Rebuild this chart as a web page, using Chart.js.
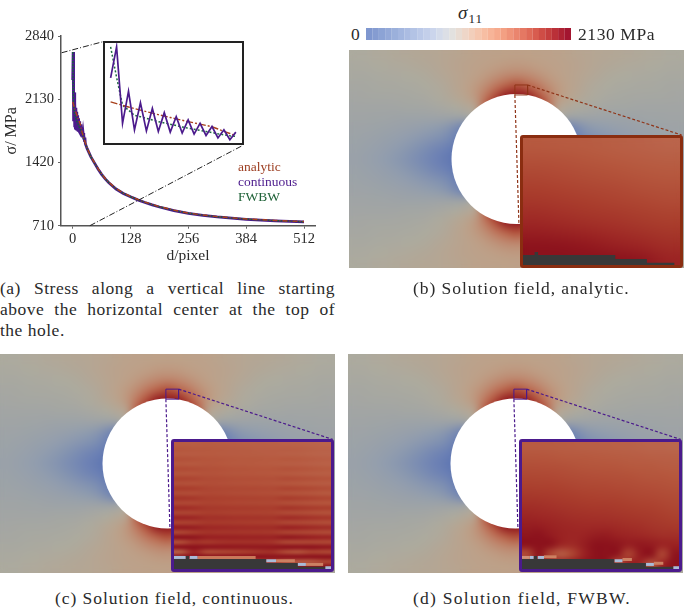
<!DOCTYPE html>
<html>
<head>
<meta charset="utf-8">
<script src="https://cdn.jsdelivr.net/npm/chart.js@4/dist/chart.umd.min.js"></script>
<style>
  html, body { margin: 0; padding: 0; background: #fff; }
  body { position: relative; width: 685px; height: 608px; overflow: hidden; font-family: "Liberation Serif", serif; color: #2a2a2a; }
  canvas { position: absolute; }
  .txt { position: absolute; white-space: nowrap; }
  .cap { font-size: 17.5px; letter-spacing: 0.95px; }
  .just { width: 335px; left: 0; white-space: normal; letter-spacing: 0.5px; text-align: justify; text-align-last: justify; }
  .frame { position: absolute; box-sizing: border-box; border-style: solid; border-width: 3px; border-radius: 3px; }
</style>
</head>
<body>
<canvas id="main" width="340" height="270" style="left:0;top:0"></canvas>
<canvas id="zoomPlot" width="139" height="102" style="left:104px;top:42px"></canvas>
<div class="frame" style="left:103px;top:41px;width:141px;height:104px;border-width:2px;border-color:#222;border-radius:0"></div>
<div class="txt" style="left:238px;top:159px;font-size:13.5px;color:#9c3d20">analytic</div>
<div class="txt" style="left:238px;top:174px;font-size:13.5px;color:#4b1a8c">continuous</div>
<div class="txt" style="left:238px;top:189px;font-size:13.5px;color:#1f6238">FWBW</div>

<div class="txt" style="left:458px;top:2px;font-size:19px"><i>σ</i><span style="font-size:13px;position:relative;top:4px;letter-spacing:1px;margin-left:1px">11</span></div>
<canvas id="bar" width="205" height="12" style="left:366px;top:28px"></canvas>
<div class="txt" style="left:351px;top:24px;font-size:17.5px">0</div>
<div class="txt" style="left:578px;top:24px;font-size:17.5px;letter-spacing:.6px">2130 MPa</div>

<canvas id="fieldB" width="335" height="218" style="left:349px;top:50px"></canvas>
<canvas id="fieldC" width="335" height="219" style="left:0;top:354px"></canvas>
<canvas id="fieldD" width="335" height="219" style="left:348px;top:354px"></canvas>
<canvas id="insetB" width="157" height="127" style="left:523px;top:138px"></canvas>
<canvas id="insetC" width="157" height="127" style="left:174px;top:442px"></canvas>
<canvas id="insetD" width="157" height="127" style="left:522px;top:442px"></canvas>
<div class="frame" style="left:520px;top:135px;width:163px;height:133px;border-color:#8a2d10"></div>
<div class="frame" style="left:171px;top:439px;width:163px;height:133px;border-color:#4b1a8c"></div>
<div class="frame" style="left:519px;top:439px;width:163px;height:133px;border-color:#4b1a8c"></div>

<div class="txt cap just" style="top:278px">(a) Stress along a vertical line starting</div>
<div class="txt cap just" style="top:299px">above the horizontal center at the top of</div>
<div class="txt cap" style="left:0;top:320px;letter-spacing:.5px">the hole.</div>
<div class="txt cap" style="left:413px;top:278px">(b) Solution field, analytic.</div>
<div class="txt cap" style="left:55px;top:588px">(c) Solution field, continuous.</div>
<div class="txt cap" style="left:413px;top:588px;letter-spacing:1.25px">(d) Solution field, FWBW.</div>

<script>
// line plot data
const dPixel = [0,1,2,3,4,5,6,7,8,9,10,11,12,13,14,15,16,17,18,19,20,21,22,23,24,25,26,27,28,32,40,48,56,64,72,80,96,112,128,144,160,176,192,224,256,288,320,352,384,416,448,480,512];
const analytic = [2100,2082,2065,2048,2032,2016,2000,1985,1970,1955,1941,1927,1913,1899,1886,1873,1860,1847,1824,1800,1778,1755,1740,1720,1700,1685,1670,1655,1640,1580,1490,1420,1352,1292,1240,1197,1127,1077,1038,1005,975,948,925,885,852,830,812,798,786,777,769,762,757];
const continuous = [2345,2660,1882,2207,1815,2090,1805,2033,1798,1990,1792,1950,1782,1916,1772,1882,1758,1849,1732,1815,1714,1792,1700,1750,1680,1725,1665,1700,1630,1575,1485,1415,1347,1287,1235,1192,1122,1072,1034,1000,970,943,920,880,848,826,808,794,782,773,765,758,752];
const fwbw = [2660,2351,2066,2016,1963,1949,1932,1916,1899,1886,1872,1859,1845,1832,1822,1809,1798,1788,1775,1765,1755,1748,1735,1715,1695,1680,1665,1650,1635,1575,1487,1417,1349,1289,1237,1194,1124,1074,1035,1002,972,945,922,882,850,828,810,796,784,775,767,760,754];
const yTicks = [710,1420,2130,2840];
const xTicks = [0,128,256,384,512];
const zoomCount = 22;
const connectTop = [[-24.4,2652],[67,2776]];
const connectBottom = [[38,710],[374,1605]];

// colour bar bands
const barColors = ['#7f97cf','#859cd1','#8ca3d5','#94a9d8','#9bb0db','#a3b6df','#abbce2','#b3c3e5','#bbc9e8','#c3cfea','#cbd5ec','#d4dbea','#dcdfe6','#e2e1df','#e8dcd3','#eed6c8','#f2cfbb','#f5c7af','#f7bea3','#f7b498','#f6aa8d','#f3a083','#ef9379','#ea856e','#e57863','#df6a58','#d85c4f','#cf4d46','#c53f3e','#ba3038','#ae2233','#a31530'];

// colour ramp of the rendered field
const rampValues = [0,350,700,1065,1300,1500,1700,1850,2000,2130];
const rampColors = [[82,108,178],[112,132,180],[145,157,174],[172,170,158],[190,160,135],[190,115,90],[182,88,62],[170,62,45],[155,35,35],[140,18,28]];

// upper left quarter of the field, columns -16..0, rows -10..0, mirrored for the rest
const fieldQuarter = [
  [1060,1070,1085,1100,1115,1130,1145,1160,1170,1190,1210,1235,1255,1270,1280,1288,1290],
  [1040,1050,1060,1075,1085,1100,1115,1135,1160,1190,1220,1245,1270,1290,1310,1325,1330],
  [1010,1015,1030,1040,1050,1060,1075,1095,1130,1170,1210,1250,1290,1330,1370,1410,1430],
  [985,990,1000,1010,1015,1025,1040,1060,1085,1130,1200,1260,1330,1400,1500,1650,1780],
  [960,965,970,975,980,990,1000,1020,1065,1110,1170,1240,1340,1500,1800,2130,2130],
  [930,935,935,935,935,940,945,960,985,1020,1070,1130,1200,1700,2130,2130,2130],
  [905,900,895,885,875,865,860,860,870,880,880,900,1100,1500,2130,2130,2130],
  [880,870,855,835,815,790,765,730,680,620,450,250,800,1400,2130,2130,2130],
  [855,840,815,785,750,710,660,600,540,470,300,200,500,1200,2130,2130,2130],
  [830,805,775,735,685,625,555,470,380,300,180,100,400,1100,2130,2130,2130],
  [815,790,750,700,640,570,490,400,310,220,100,0,300,1000,2130,2130,2130]
];

// close-ups of the hole edge
const insetAnalytic = [
  [1690,1680,1670,1650,1630,1610],
  [1730,1720,1700,1680,1660,1640],
  [1770,1755,1735,1715,1695,1680],
  [1810,1790,1770,1750,1730,1710],
  [1850,1830,1810,1790,1765,1745],
  [1890,1870,1850,1825,1805,1780],
  [1940,1915,1890,1870,1845,1820],
  [1990,1965,1940,1915,1885,1860],
  [2060,2040,2010,1975,1940,1905],
  [2130,2120,2090,2040,2000,1950],
  [2130,2130,2130,2130,2100,2000]
];
const insetContinuous = [
  [1670,1665,1670,1665,1660,1650,1645,1640,1630,1625,1615,1605],
  [1710,1700,1690,1685,1675,1670,1660,1660,1665,1660,1640,1630],
  [1680,1675,1685,1680,1675,1670,1665,1660,1645,1640,1625,1615],
  [1745,1735,1715,1710,1700,1695,1690,1685,1700,1695,1675,1660],
  [1700,1695,1710,1705,1695,1690,1685,1680,1665,1660,1645,1635],
  [1780,1770,1745,1740,1730,1725,1715,1715,1735,1730,1710,1695],
  [1720,1715,1735,1730,1720,1715,1710,1705,1690,1680,1665,1655],
  [1820,1810,1775,1770,1760,1755,1750,1745,1775,1765,1745,1730],
  [1745,1740,1760,1755,1745,1740,1735,1730,1710,1700,1685,1675],
  [1860,1850,1810,1800,1795,1790,1785,1780,1815,1805,1785,1765],
  [1770,1765,1790,1785,1775,1770,1765,1760,1735,1725,1710,1695],
  [1905,1890,1845,1840,1830,1825,1820,1815,1860,1845,1825,1805],
  [1790,1790,1820,1815,1805,1800,1795,1790,1760,1745,1730,1715],
  [1950,1935,1885,1880,1870,1865,1860,1855,1905,1890,1865,1850],
  [1810,1815,1850,1845,1835,1830,1825,1820,1780,1770,1750,1735],
  [2000,1985,1930,1925,1915,1910,1905,1900,1955,1940,1915,1895],
  [1820,1835,1880,1875,1865,1860,1855,1850,1800,1790,1775,1755],
  [2060,2040,1980,1970,1960,1955,1950,1950,2015,1995,1965,1945],
  [1800,1860,1905,1900,1900,1895,1890,1880,1820,1810,1790,1775],
  [2130,2100,2030,2020,2015,2010,2005,2005,2085,2060,2030,2000],
  [1750,1900,1880,1910,1920,1920,1920,1900,1800,1790,1800,1790],
  [2130,2130,2100,2090,2085,2080,2080,2090,2130,2120,2120,2090],
  [1650,2000,1780,1800,1820,1850,1900,1920,1780,1730,1820,1800],
  [2130,2130,2130,2130,2130,2130,2130,2110,2130,2130,2130,2130],
  [1450,1550,1550,1600,1650,1700,1800,1900,1700,1680,1700,1800],
  [2130,2130,2130,2130,2130,2130,2130,2130,2100,2130,2130,2130]
];
const insetFwbw = [
  [1680,1675,1670,1665,1660,1650,1645,1640,1635,1630,1620,1610,1610,1600],
  [1720,1715,1710,1700,1695,1690,1685,1680,1670,1665,1660,1650,1645,1640],
  [1760,1755,1750,1745,1735,1725,1720,1715,1710,1700,1695,1690,1680,1670],
  [1800,1795,1790,1780,1770,1765,1755,1750,1745,1740,1730,1720,1715,1705],
  [1840,1835,1830,1820,1810,1800,1795,1790,1780,1775,1765,1755,1745,1735],
  [1885,1880,1870,1860,1850,1840,1830,1825,1820,1810,1800,1790,1780,1770],
  [1935,1925,1915,1900,1890,1880,1875,1870,1860,1850,1840,1830,1815,1800],
  [1985,1975,1960,1945,1930,1920,1915,1910,1900,1890,1880,1865,1850,1835],
  [2040,2035,2010,1985,1970,1960,1960,1960,1950,1935,1920,1900,1885,1875],
  [2100,2120,2060,2010,1990,2000,2040,2050,2010,1990,1970,1950,1930,1925],
  [2130,2130,2130,1990,1960,2040,2130,2130,2110,2040,2080,2060,2000,2010],
  [1750,2130,1800,1650,1800,2000,2130,2130,2100,1800,2060,2130,1780,2100],
  [2130,2130,2130,2130,2130,2130,2130,2130,1700,2050,2000,1700,2000,2130]
];

// missing pixels of the hole in the close-ups, percent of the box
const holeX = [0,7.4,7.4,9.6,9.6,58.8,58.8,78.9,78.9,96.4,96.4,100];
const holeY = [7.8,7.8,10.2,10.2,7.8,7.8,4.7,4.7,1.8,1.8,0,0];
// boundary cells [x0, x1, y, colour]
const chipsContinuous = [[0,7.4,9.1,'#a9bcd8'],[10,15,9.1,'#a9bcd8'],[15,52,9.1,'#c9785a'],[58.8,65,6.5,'#a9bcd8'],[65,77,6.5,'#cc8062'],[78.9,84,3.6,'#a9bcd8'],[84,95,3.6,'#cc8062'],[96.4,100,1,'#a9bcd8']];
const chipsFwbw = [[0,5,9.1,'#cf9078'],[5,7.4,9.1,'#a9bcd8'],[10,14,9.1,'#a9bcd8'],[14,22,9.6,'#cc8062'],[59,64,6.5,'#a9bcd8'],[64,70,7.5,'#cc8062'],[79,84,3.6,'#a9bcd8'],[84,90,4.5,'#cc8062'],[96.4,100,1,'#a9bcd8']];

function rampColor(v) {
  let i = 0;
  while (i < rampValues.length - 2 && v > rampValues[i + 1]) i++;
  const t = Math.min(1, Math.max(0, (v - rampValues[i]) / (rampValues[i + 1] - rampValues[i])));
  return rampColors[i].map((c, k) => c + (rampColors[i + 1][k] - c) * t);
}

// paints a value grid into the chart area, using the chart's scales for the extent
function heatPlugin(grid, blur) {
  const off = document.createElement('canvas');
  off.width = grid[0].length;
  off.height = grid.length;
  const offCtx = off.getContext('2d');
  const img = offCtx.createImageData(off.width, off.height);
  grid.forEach((row, r) => row.forEach((v, c) => {
    const col = rampColor(v);
    const p = (r * off.width + c) * 4;
    img.data[p] = col[0]; img.data[p + 1] = col[1]; img.data[p + 2] = col[2]; img.data[p + 3] = 255;
  }));
  offCtx.putImageData(img, 0, 0);
  return {
    id: 'heat',
    beforeDatasetsDraw(chart) {
      const x = chart.scales.x, y = chart.scales.y;
      const left = x.getPixelForValue(x.min), right = x.getPixelForValue(x.max);
      const top = y.getPixelForValue(y.min), bottom = y.getPixelForValue(y.max);
      const ctx = chart.ctx;
      const yTop = Math.min(top, bottom), h = Math.abs(bottom - top);
      ctx.save();
      ctx.imageSmoothingEnabled = true;
      ctx.imageSmoothingQuality = 'high';
      ctx.drawImage(off, left, yTop, right - left, h);
      if (blur) {
        ctx.filter = 'blur(' + blur + 'px)';
        ctx.drawImage(off, left, yTop, right - left, h);
      }
      ctx.restore();
    }
  };
}

function pairs(list) {
  return list.map(p => ({ x: p[0], y: p[1] }));
}

function baseOptions(scales) {
  return {
    responsive: false,
    animation: false,
    devicePixelRatio: 1,
    layout: { padding: 0, autoPadding: false },
    plugins: { legend: { display: false }, tooltip: { enabled: false } },
    scales: scales
  };
}

function curve(xs, ys, color, width, dash) {
  return {
    data: xs.map((x, i) => ({ x: x, y: ys[i] })),
    borderColor: color,
    borderWidth: width,
    borderDash: dash || [],
    pointRadius: 0,
    showLine: true,
    tension: 0
  };
}

// main plot
const mainOpts = baseOptions({
  x: {
    type: 'linear', min: -25.9, max: 536.3,
    afterBuildTicks: s => { s.ticks = xTicks.map(v => ({ value: v })); },
    afterFit: s => { s.height = 44.3; },
    grid: { drawOnChartArea: false, tickLength: 3, color: '#666' },
    border: { color: '#555', width: 1.5 },
    ticks: { color: '#2a2a2a', padding: 2, maxRotation: 0, callback: v => String(v), font: { family: 'Liberation Serif', size: 14.5 } },
    title: { display: true, text: 'd/pixel', color: '#2a2a2a', padding: { top: 0, bottom: 5 }, font: { family: 'Liberation Serif', size: 15.5 } }
  },
  y: {
    type: 'linear', min: 710, max: 2840,
    afterBuildTicks: s => { s.ticks = yTicks.map(v => ({ value: v })); },
    afterFit: s => { s.width = 61; },
    grid: { drawOnChartArea: false, tickLength: 3, color: '#666' },
    border: { color: '#555', width: 1.5 },
    ticks: { color: '#2a2a2a', padding: 4, callback: v => String(v), font: { family: 'Liberation Serif', size: 14.5 } },
    title: { display: true, text: 'σ/ MPa', color: '#2a2a2a', padding: { top: 2, bottom: 0 }, font: { family: 'Liberation Serif', size: 16 } }
  }
});
mainOpts.layout.padding = { top: 36, right: 25 };
const connectorStyle = { borderColor: '#222', borderWidth: 1, borderDash: [6, 2, 1, 2], pointRadius: 0, showLine: true, clip: false };
// chart.js paints the first dataset last
new Chart(document.getElementById('main'), {
  type: 'scatter',
  data: { datasets: [
    Object.assign({ data: pairs(connectTop) }, connectorStyle),
    Object.assign({ data: pairs(connectBottom) }, connectorStyle),
    curve(dPixel, analytic, '#b0401c', 1.4, [5, 2, 1, 2]),
    curve(dPixel, fwbw, '#16603c', 1.4, [2, 1]),
    curve(dPixel, continuous, '#4b1a8c', 2.8)
  ] },
  options: mainOpts
});

// zoomed part of the line plot
const zoomD = dPixel.slice(0, zoomCount);
new Chart(document.getElementById('zoomPlot'), {
  type: 'scatter',
  data: { datasets: [
    curve(zoomD, continuous.slice(0, zoomCount), '#4b1a8c', 1.7),
    curve(zoomD, analytic.slice(0, zoomCount), '#a8401c', 1.4, [7, 2, 2, 2]),
    curve(zoomD, fwbw.slice(0, zoomCount), '#1c6a40', 1.5, [2, 2])
  ] },
  options: baseOptions({
    x: { type: 'linear', min: -1.11, max: 22.2, display: false },
    y: { type: 'linear', min: 1671, max: 2710, display: false }
  })
});

// colour bar
new Chart(document.getElementById('bar'), {
  type: 'bar',
  data: {
    labels: barColors.map((c, i) => i),
    datasets: [{ data: barColors.map(() => 1), backgroundColor: barColors, barPercentage: 1.02, categoryPercentage: 1 }]
  },
  options: baseOptions({
    x: { display: false },
    y: { display: false, min: 0, max: 1 }
  })
});

// fields
const fieldGrid = fieldQuarter.concat(fieldQuarter.slice(0, -1).reverse())
  .map(row => row.concat(row.slice(0, -1).reverse()));
const zoomBox = [[-0.16,-7.13],[1.09,-7.13],[1.09,-6.17],[-0.16,-6.17],[-0.16,-7.13]];
const leaderLeft = [[-0.16,-6.17],[0.24,6.26]];
const leaderRight = [[1.09,-7.13],[16.27,-2.31]];
const holeCenter = [[0,0]];

function drawField(id, color) {
  new Chart(document.getElementById(id), {
    type: 'scatter',
    plugins: [heatPlugin(fieldGrid, 3)],
    data: { datasets: [
      { data: pairs(zoomBox), showLine: true, borderColor: color, borderWidth: 1, pointRadius: 0 },
      { data: pairs(leaderLeft), showLine: true, borderColor: color, borderWidth: 1.2, borderDash: [3, 2], pointRadius: 0 },
      { data: pairs(leaderRight), showLine: true, borderColor: color, borderWidth: 1.2, borderDash: [3, 2], pointRadius: 0 },
      { data: pairs(holeCenter), pointRadius: 65, pointBackgroundColor: '#fff', pointBorderWidth: 0 }
    ] },
    options: baseOptions({
      x: { type: 'linear', min: -16.5, max: 16.5, display: false },
      y: { type: 'linear', min: -10.5, max: 10.5, reverse: true, display: false }
    })
  });
}
drawField('fieldB', '#8f3418');
drawField('fieldC', '#4b1a8c');
drawField('fieldD', '#4b1a8c');

function drawInset(id, grid, chips, blur) {
  const sets = [];
  chips.forEach(c => sets.push({
    data: [{ x: c[0], y: c[2] }, { x: c[1], y: c[2] }],
    showLine: true, borderColor: c[3], borderWidth: 3, pointRadius: 0
  }));
  sets.push({
    data: holeX.map((x, i) => ({ x: x, y: holeY[i] })),
    showLine: true, fill: 'origin', borderWidth: 0, pointRadius: 0,
    backgroundColor: '#383838', borderColor: '#383838'
  });
  new Chart(document.getElementById(id), {
    type: 'scatter',
    plugins: [heatPlugin(grid, blur)],
    data: { datasets: sets },
    options: baseOptions({
      x: { type: 'linear', min: 0, max: 100, display: false },
      y: { type: 'linear', min: 0, max: 100, display: false }
    })
  });
}
drawInset('insetB', insetAnalytic, [], 3);
drawInset('insetC', insetContinuous, chipsContinuous, 0);
drawInset('insetD', insetFwbw, chipsFwbw, 1);
</script>
</body>
</html>
